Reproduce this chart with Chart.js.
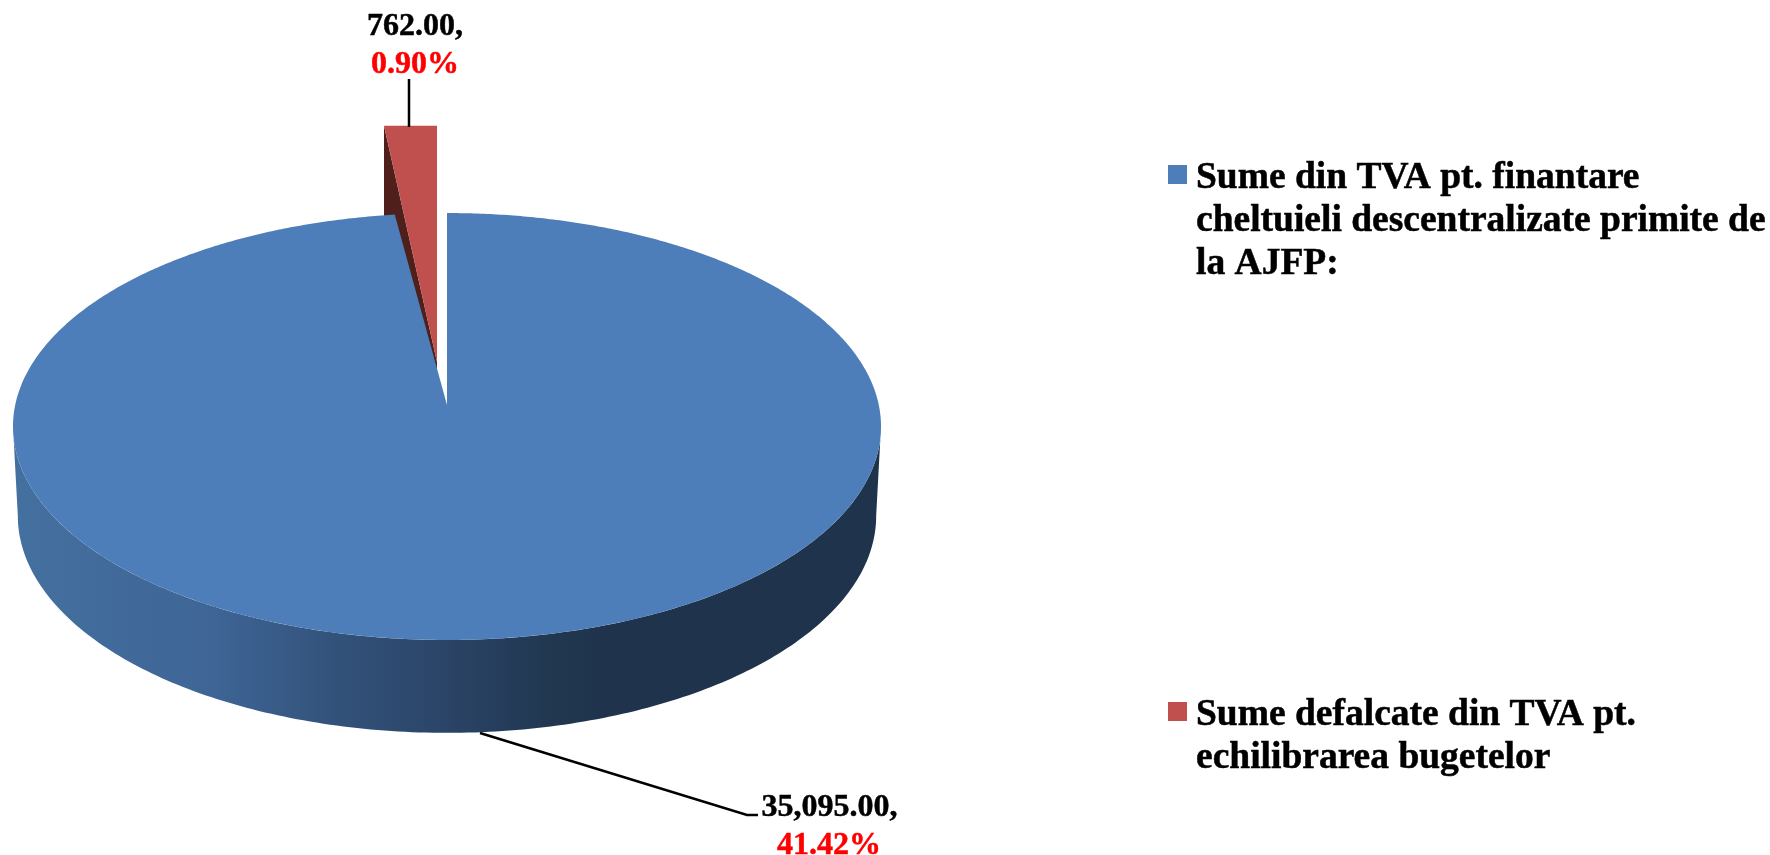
<!DOCTYPE html>
<html>
<head>
<meta charset="utf-8">
<title>Sume din TVA</title>
<script src="https://cdn.jsdelivr.net/npm/chart.js@4/dist/chart.umd.js"></script>
<style>
    html, body { margin: 0; padding: 0; background: #fff; }
    canvas { display: block; }
</style>
</head>
<body>
<canvas id="grafic" width="1770" height="855"></canvas>
<script>
const categorii = [
    ['Sume din TVA pt. finantare', 'cheltuieli descentralizate primite de', 'la AJFP:'],
    ['Sume defalcate din TVA pt.', 'echilibrarea bugetelor']
]
const valori = [35095, 762]
const procente = ['41.42%', '0.90%']
const culori = ['#4e7eb9', '#c0504d']

const FONT = 'bold 32px "Liberation Serif"'
const FONT_LEGENDA = 'bold 37.5px "Liberation Serif"'

// perspectiva pentru fiecare felie: centru, raze, inclinare
const PERSP = { x: 447, y: 405, a: 431.8, b: 211.3, c: 0.1007 }
const PERSP_JOS = { x: 447, y: 494, a: 427, b: 214.8, c: 0.1007 }
const PERSP_ROSU = { x: 437, y: 362, a: 438, b: 260, c: 0.1007 }
const ADANCIME_ROSU = 90

function proiectie(p, unghi) {
    const u = Math.sin(unghi + Math.PI / 2)
    const v = Math.cos(unghi + Math.PI / 2)
    const w = 1 + p.c * v
    return [p.x + p.a * u / w, p.y - p.b * v / w]
}

function margine(ctx, p, start, end, pasi) {
    for (let i = 0; i <= pasi; i++) {
        const pt = proiectie(p, start + (end - start) * i / pasi)
        ctx.lineTo(pt[0], pt[1])
    }
}

function text(ctx, s, x, y) {
    ctx.fillText(s, x, y)
    ctx.strokeText(s, x, y)
}

const pie3d = {
    id: 'pie3d',
    beforeDatasetDraw(chart) {
        const ctx = chart.ctx
        const [albastru, rosu] = chart.getDatasetMeta(0).data

        // peretele felie rosii
        const r0 = proiectie(PERSP_ROSU, rosu.startAngle)
        const r1 = proiectie(PERSP_ROSU, rosu.endAngle)
        ctx.fillStyle = '#4f1f1c'
        ctx.beginPath()
        ctx.moveTo(PERSP_ROSU.x, PERSP_ROSU.y)
        ctx.lineTo(r0[0], r1[1])
        ctx.lineTo(r0[0], r1[1] + ADANCIME_ROSU)
        ctx.lineTo(PERSP_ROSU.x, PERSP_ROSU.y + ADANCIME_ROSU)
        ctx.closePath()
        ctx.fill()

        // fata felie rosii, cu marginea de sus dreapta
        ctx.fillStyle = rosu.options.backgroundColor
        ctx.beginPath()
        ctx.moveTo(PERSP_ROSU.x, PERSP_ROSU.y)
        ctx.lineTo(r0[0], r1[1])
        ctx.lineTo(r1[0], r1[1])
        ctx.closePath()
        ctx.fill()

        // partea laterala albastra, intre punctele extreme ale celor doua margini
        const grad = ctx.createLinearGradient(14, 0, 882, 0)
        grad.addColorStop(0, '#44709f')
        grad.addColorStop(0.23, '#3e6596')
        grad.addColorStop(0.37, '#33527a')
        grad.addColorStop(0.48, '#2c466a')
        grad.addColorStop(0.62, '#213750')
        grad.addColorStop(0.68, '#1f334c')
        grad.addColorStop(1, '#1f334c')
        const s = Math.asin(PERSP.c)
        const e = Math.PI - s
        ctx.fillStyle = grad
        ctx.beginPath()
        margine(ctx, PERSP, s, e, 200)
        margine(ctx, PERSP_JOS, e, s, 200)
        ctx.closePath()
        ctx.fill()

        // fata felie albastre
        ctx.fillStyle = albastru.options.backgroundColor
        ctx.beginPath()
        ctx.moveTo(PERSP.x, PERSP.y)
        margine(ctx, PERSP, albastru.startAngle, albastru.endAngle, 720)
        ctx.closePath()
        ctx.fill()

        return false
    },
    afterDatasetsDraw(chart) {
        const ctx = chart.ctx
        const fmt = v => v.toLocaleString('en-US', { minimumFractionDigits: 2, maximumFractionDigits: 2 }) + ','

        // linii de legatura
        ctx.strokeStyle = '#000'
        ctx.lineWidth = 2.5
        ctx.beginPath()
        ctx.moveTo(409, 79)
        ctx.lineTo(409, 127)
        ctx.moveTo(480, 733)
        ctx.lineTo(747, 815)
        ctx.lineTo(758, 815)
        ctx.stroke()

        // etichete
        ctx.lineWidth = 0.5
        ctx.font = FONT
        ctx.textAlign = 'center'
        ctx.textBaseline = 'alphabetic'
        ctx.fillStyle = ctx.strokeStyle = '#000'
        text(ctx, fmt(valori[1]), 415, 35)
        text(ctx, fmt(valori[0]), 829.5, 816)
        ctx.fillStyle = ctx.strokeStyle = '#ff0000'
        text(ctx, procente[1], 415, 73)
        text(ctx, procente[0], 829, 854)

        // legenda
        const poz = [{ y: 165, t: 188 }, { y: 702, t: 725 }]
        ctx.textAlign = 'left'
        categorii.forEach((linii, i) => {
            ctx.fillStyle = culori[i]
            ctx.fillRect(1168, poz[i].y, 19, 19)
            ctx.fillStyle = ctx.strokeStyle = '#000'
            ctx.font = FONT_LEGENDA
            linii.forEach((linie, j) => text(ctx, linie, 1196, poz[i].t + j * 43))
        })
    }
}

new Chart(document.getElementById('grafic'), {
    type: 'pie',
    data: {
        labels: categorii.map(c => c.join(' ')),
        datasets: [{ data: valori, backgroundColor: culori, borderWidth: 0 }]
    },
    options: {
        responsive: false,
        animation: false,
        plugins: {
            legend: { display: false },
            tooltip: { enabled: false }
        }
    },
    plugins: [pie3d]
})
</script>
</body>
</html>
